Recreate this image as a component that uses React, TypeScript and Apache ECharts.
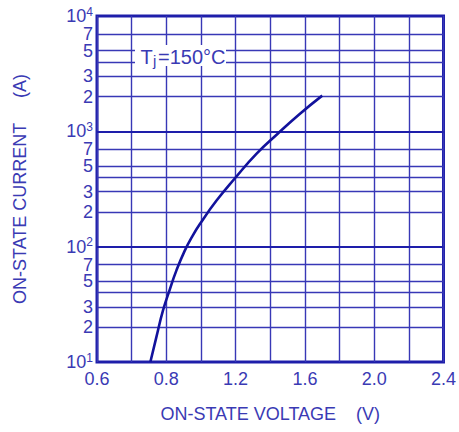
import React, { useEffect, useRef } from "react";
import * as echarts from "echarts";

// ---- data ----
const VOLTAGE = [0.708, 0.743, 0.781, 0.819, 0.858, 0.906, 0.95, 1.0, 1.09, 1.2, 1.32, 1.44, 1.57, 1.7];
const CURRENT = [10, 16.5, 28, 42, 62, 92, 123, 162, 251, 398, 638, 944, 1413, 2040];

const X_TICK_VALUES = [0.4, 0.8, 1.2, 1.6, 2.0, 2.4];
const X_TICK_LABELS = ["0.6", "0.8", "1.2", "1.6", "2.0", "2.4"];

const Y_LABEL_VALUES = [10, 20, 30, 50, 70, 100, 200, 300, 500, 700, 1000, 2000, 3000, 5000, 7000, 10000];
const Y_MINOR_LINES = [20, 30, 40, 50, 70, 200, 300, 400, 500, 700, 2000, 3000, 4000, 5000, 7000];
const Y_DECADE_LINES = [100, 1000];

const TEXT_COLOR = "#3a3ab4";
const GRID_COLOR = "#3838b6";
const BORDER_COLOR = "#1e1eaa";
const CURVE_COLOR = "#12129c";
const FONT = "Liberation Sans, Arial, sans-serif";

export default function App() {
  const ref = useRef<HTMLDivElement>(null);

  useEffect(() => {
    if (!ref.current) return;
    document.body.style.margin = "0";
    const chart = echarts.init(ref.current, null, { renderer: "svg" });

    const yFormatter = (v: number) => {
      const val = Math.round(v);
      const exp = Math.round(Math.log10(val));
      if (Math.abs(Math.pow(10, exp) - val) < 1e-6) {
        return `{base|10}{sup|${exp}}`;
      }
      const lead = Math.round(val / Math.pow(10, Math.floor(Math.log10(val))));
      return `{num|${lead}}`;
    };

    chart.setOption({
      animation: false,
      backgroundColor: "#ffffff",
      textStyle: { fontFamily: FONT },
      grid: {
        left: 97,
        right: 15,
        top: 16,
        bottom: 70,
        show: true,
        borderColor: BORDER_COLOR,
        borderWidth: 3,
        backgroundColor: "transparent",
      },
      xAxis: {
        type: "value",
        min: 0.4,
        max: 2.4,
        interval: 0.2,
        name: "ON-STATE VOLTAGE    (V)",
        nameLocation: "middle",
        nameGap: 43,
        nameTextStyle: { color: TEXT_COLOR, fontSize: 18, fontFamily: FONT },
        axisLine: { show: false },
        axisTick: { show: false },
        axisLabel: {
          customValues: X_TICK_VALUES,
          color: TEXT_COLOR,
          fontSize: 18,
          fontFamily: FONT,
          margin: 8,
          formatter: (v: number) => {
            let best = 0;
            X_TICK_VALUES.forEach((t, i) => {
              if (Math.abs(t - v) < Math.abs(X_TICK_VALUES[best] - v)) best = i;
            });
            return X_TICK_LABELS[best];
          },
        },
        splitLine: { show: true, lineStyle: { color: GRID_COLOR, width: 1.4 } },
      },
      yAxis: {
        type: "log",
        logBase: 10,
        min: 10,
        max: 10000,
        name: "ON-STATE CURRENT     (A)",
        nameLocation: "middle",
        nameGap: 68,
        nameRotate: 90,
        nameTextStyle: { color: TEXT_COLOR, fontSize: 18, fontFamily: FONT },
        axisLine: { show: false },
        axisTick: { show: false },
        splitLine: { show: false },
        minorSplitLine: { show: false },
        axisLabel: {
          customValues: Y_LABEL_VALUES,
          color: TEXT_COLOR,
          fontFamily: FONT,
          margin: 4,
          formatter: yFormatter,
          rich: {
            num: { fontSize: 18, lineHeight: 15, color: TEXT_COLOR, fontFamily: FONT },
            base: { fontSize: 18, lineHeight: 21, color: TEXT_COLOR, fontFamily: FONT },
            sup: { fontSize: 12, lineHeight: 12, verticalAlign: "top", color: TEXT_COLOR, fontFamily: FONT },
          },
        },
      },
      series: [
        {
          type: "line",
          data: [],
          z: 1,
          silent: true,
          markLine: {
            silent: true,
            symbol: ["none", "none"],
            label: { show: false },
            animation: false,
            data: [
              ...Y_MINOR_LINES.map((y) => ({ yAxis: y, lineStyle: { color: GRID_COLOR, width: 1.4, type: "solid" } })),
              ...Y_DECADE_LINES.map((y) => ({ yAxis: y, lineStyle: { color: BORDER_COLOR, width: 2.2, type: "solid" } })),
            ],
          },
        },
        {
          type: "line",
          z: 5,
          smooth: true,
          symbol: "none",
          data: VOLTAGE.map((v, i) => [v, CURRENT[i]]),
          lineStyle: { color: CURVE_COLOR, width: 2.6 },
        },
      ],
      graphic: [
        {
          type: "group",
          left: 135,
          top: 45,
          z: 100,
          children: [
            { type: "rect", z: 100, shape: { x: 0, y: 0, width: 91, height: 21 }, style: { fill: "#ffffff" } },
            {
              type: "text",
              z: 101,
              x: 5.5,
              y: 2,
              style: { text: "T", fill: TEXT_COLOR, font: `20px ${FONT}`, textVerticalAlign: "top" },
            },
            {
              type: "text",
              z: 101,
              x: 18,
              y: 7.5,
              style: { text: "j", fill: TEXT_COLOR, font: `15px ${FONT}`, textVerticalAlign: "top" },
            },
            {
              type: "text",
              z: 101,
              x: 23,
              y: 2,
              style: { text: "=150°C", fill: TEXT_COLOR, font: `20px ${FONT}`, textVerticalAlign: "top" },
            },
          ],
        },
      ],
    });

    return () => chart.dispose();
  }, []);

  return <div ref={ref} style={{ width: 459, height: 432 }} />;
}
